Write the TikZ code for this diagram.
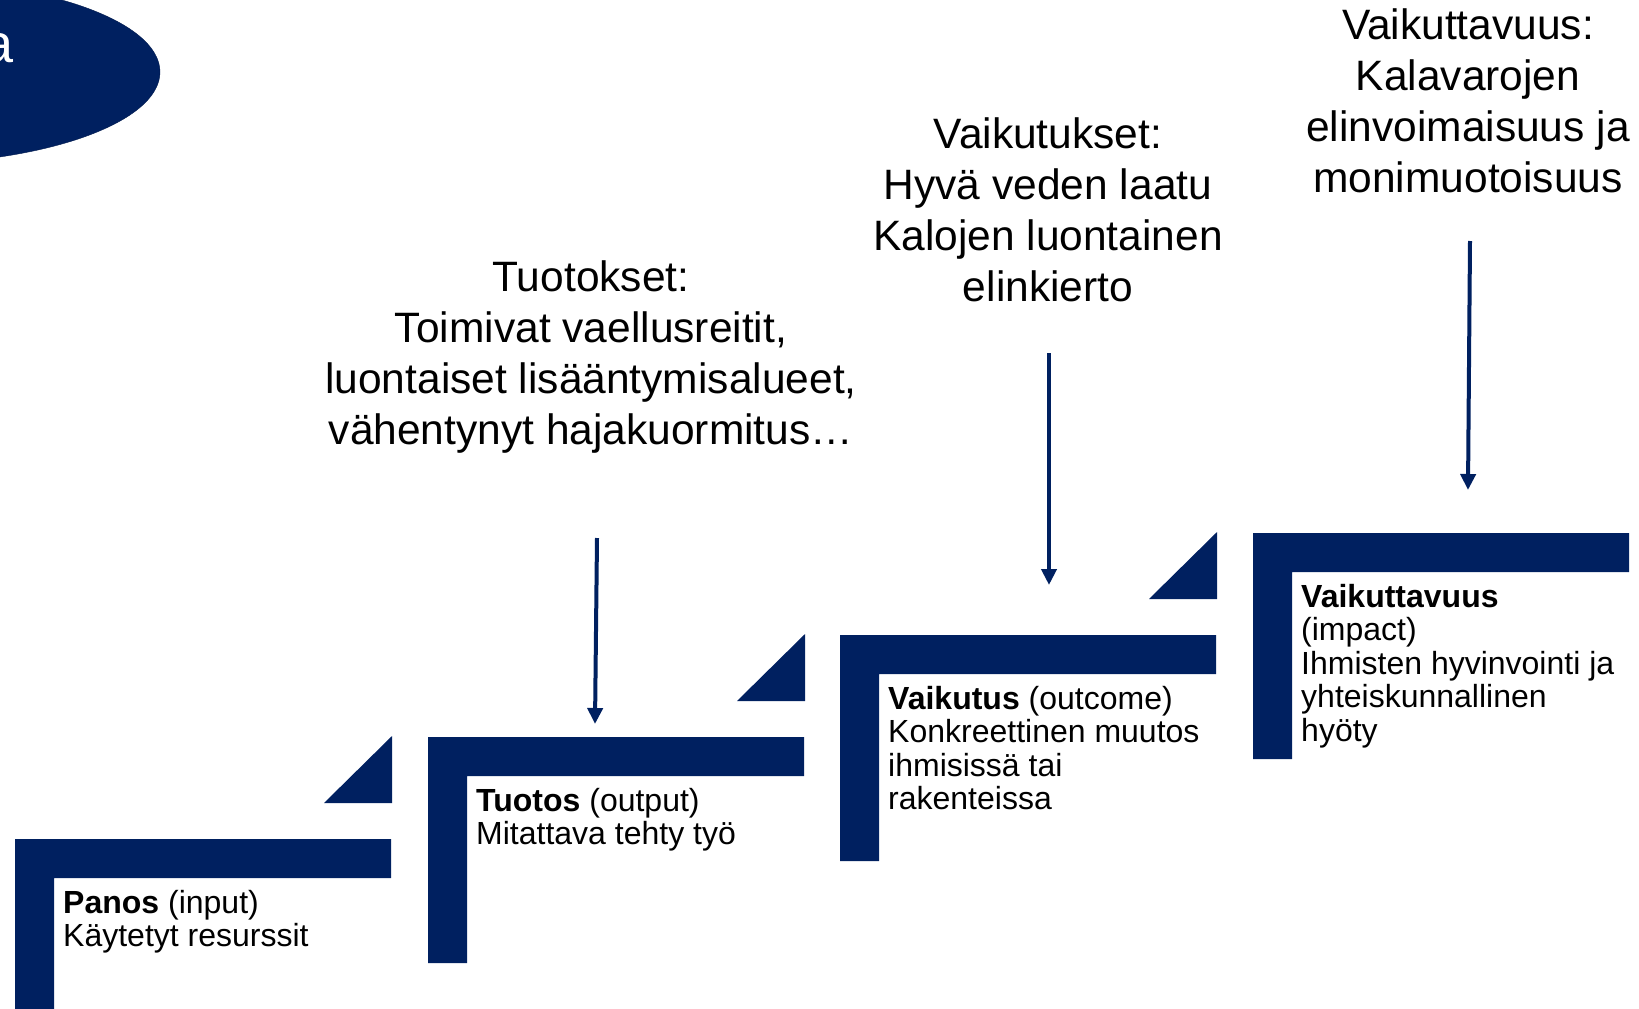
\documentclass[tikz,border=0pt]{standalone}
\usepackage{fontspec}
\setmainfont{Liberation Sans}
\usepackage{xcolor}
\usetikzlibrary{arrows.meta, shapes.geometric}
\definecolor{navy}{HTML}{002060}

\begin{document}
\begin{tikzpicture}[x=1pt, y=-1pt,
    stepfill/.style={fill=navy},
    bigtext/.style={align=center, inner sep=0pt,
                    font=\fontsize{42.5}{51}\selectfont},
    steplbl/.style={align=left, anchor=north west, inner sep=0pt,
                    font=\fontsize{32}{33.5}\selectfont},
    arrow/.style={-{Triangle[length=16pt, width=15pt]}, line width=4pt, draw=navy}
  ]
    \useasboundingbox (0,0) rectangle (1639,1009);
    \clip (0,0) rectangle (1639,1009);

    \node[ellipse, fill=navy, draw=navy!80!black, inner sep=0pt,
          minimum width=520pt, minimum height=184pt] (oval) at (-100,72) {};
    \node[anchor=base east, inner sep=0pt, text=white,
          font=\fontsize{54}{60}\selectfont] (ovaltext) at (14,62) {a};

    \fill[stepfill] (15,839) -- ++(376,0) -- ++(0,39) -- ++(-337,0) -- ++(0,187) -- ++(-39,0) -- cycle;
    \fill[stepfill] (324,803) -- (392,803) -- (392,736) -- cycle;
    \fill[stepfill] (428,737) -- ++(376,0) -- ++(0,39) -- ++(-337,0) -- ++(0,187) -- ++(-39,0) -- cycle;
    \fill[stepfill] (737,701) -- (805,701) -- (805,634) -- cycle;
    \fill[stepfill] (840,635) -- ++(376,0) -- ++(0,39) -- ++(-337,0) -- ++(0,187) -- ++(-39,0) -- cycle;
    \fill[stepfill] (1149,599) -- (1217,599) -- (1217,532) -- cycle;
    \fill[stepfill] (1253,533) -- ++(376,0) -- ++(0,39) -- ++(-337,0) -- ++(0,187) -- ++(-39,0) -- cycle;

    \node[steplbl] (panos) at (63,890) {\textbf{Panos} (input)\\Käytetyt resurssit};
    \node[steplbl] (tuotos) at (476,788) {\textbf{Tuotos} (output)\\Mitattava tehty työ};
    \node[steplbl] (vaikutus) at (888,686)
      {\textbf{Vaikutus} (outcome)\\Konkreettinen muutos\\ihmisissä tai\\rakenteissa};
    \node[steplbl] (vaikuttavuus) at (1301,584)
      {\textbf{Vaikuttavuus}\\(impact)\\Ihmisten hyvinvointi ja\\yhteiskunnallinen\\hyöty};

    \node[bigtext] (tuotokset) at (591,357)
      {Tuotokset:\\Toimivat vaellusreitit,\\luontaiset lisääntymisalueet,\\vähentynyt hajakuormitus…};
    \node[bigtext] (vaikutukset) at (1048,210)
      {Vaikutukset:\\Hyvä veden laatu\\Kalojen luontainen\\elinkierto};
    \node[bigtext] (vaikuttavuusteksti) at (1468,101)
      {Vaikuttavuus:\\Kalavarojen\\elinvoimaisuus ja\\monimuotoisuus};

    \coordinate (tuotokset-a) at (597,538);
    \coordinate (tuotos-a) at (595,724);
    \coordinate (vaikutukset-a) at (1049,353);
    \coordinate (vaikutus-a) at (1049,585);
    \coordinate (vaikuttavuusteksti-a) at (1470,241);
    \coordinate (vaikuttavuus-a) at (1468,490);

    \draw[arrow] (tuotokset-a) -- (tuotos-a);
    \draw[arrow] (vaikutukset-a) -- (vaikutus-a);
    \draw[arrow] (vaikuttavuusteksti-a) -- (vaikuttavuus-a);
  \end{tikzpicture}
\end{document}
